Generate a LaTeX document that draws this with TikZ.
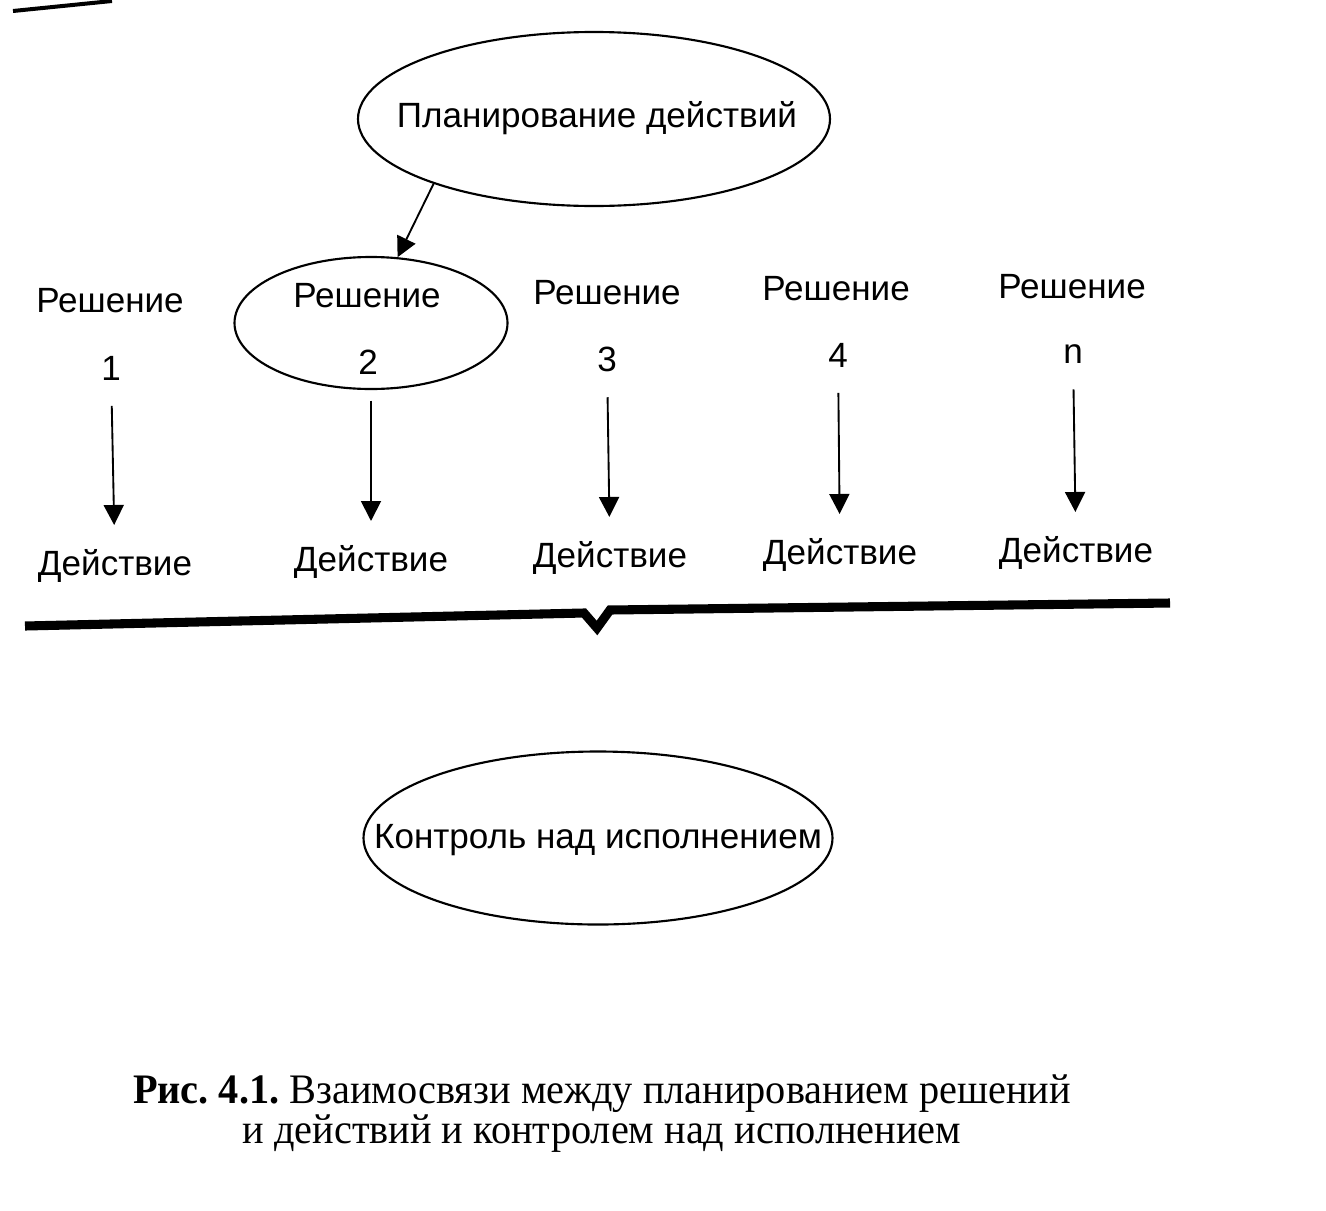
\documentclass[tikz,border=0pt]{standalone}
\usepackage{fontspec}
\setmainfont{Liberation Sans}
\newfontfamily\capfont[FakeStretch=0.96]{Liberation Serif}
\usetikzlibrary{shapes.geometric,arrows.meta}

\tikzset{every picture/.style={line width=0.75pt}}
\tikzset{
	lbl/.style={font=\fontsize{26.3}{31}\selectfont, inner sep=0pt},
	oval/.style={draw, ellipse, line width=1.6pt, inner sep=0pt},
	pointer/.style={line width=1.4pt, -{Triangle[length=15pt,width=15pt]}},
	decarrow/.style={pointer, shorten <=19pt, shorten >=18pt},
	caption/.style={font=\capfont\fontsize{31.5}{30}\selectfont, align=center, inner sep=0pt}}

\begin{document}
\begin{tikzpicture}[x=0.75pt,y=0.75pt,yscale=-1,xscale=1]
	\useasboundingbox (0,0) rectangle (1326,1210);

	%Straight Lines [scan edge]
	\draw [line width=3pt] (13,11) -- (112,1) ;

	%Shape: Ellipse [plan]
	\node [oval, minimum width=354pt, minimum height=130.5pt] (plan) at (594,119) {};
	% Text Node
	\node [lbl] (plantxt) at (597,118) {Планирование действий};
	%Shape: Ellipse [oval2]
	\node [oval, minimum width=204.75pt, minimum height=99pt] (oval2) at (371,323) {};

	% Text Node
	\node [lbl] (r1) at (110,301) {Решение};
	% Text Node
	\node [lbl] (r2) at (367,296) {Решение};
	% Text Node
	\node [lbl] (r3) at (607,293) {Решение};
	% Text Node
	\node [lbl] (r4) at (836,289) {Решение};
	% Text Node
	\node [lbl] (r5) at (1072,287) {Решение};

	% Text Node
	\node [lbl] (k1) at (111,368) {1};
	% Text Node
	\node [lbl] (k2) at (368,362) {2};
	% Text Node
	\node [lbl] (k3) at (607,359) {3};
	% Text Node
	\node [lbl] (k4) at (838,355) {4};
	% Text Node
	\node [lbl] (k5) at (1073,354) {n};

	% Text Node
	\node [lbl] (d1) at (115,566) {Действие};
	% Text Node
	\node [lbl] (d2) at (371,562) {Действие};
	% Text Node
	\node [lbl] (d3) at (610,558) {Действие};
	% Text Node
	\node [lbl] (d4) at (840,555) {Действие};
	% Text Node
	\node [lbl] (d5) at (1076,553) {Действие};

	%Straight Lines [plan to oval2]
	\draw [pointer] (plan.202) -- (oval2.68) ;
	%Straight Lines [decision to action]
	\draw [decarrow] (k1) -- (d1) ;
	\draw [decarrow, shorten <=8pt] (oval2.south) -- (d2) ;
	\draw [decarrow] (k3) -- (d3) ;
	\draw [decarrow] (k4) -- (d4) ;
	\draw [decarrow] (k5) -- (d5) ;

	%Straight Lines [thick bar]
	\draw [line width=6.8pt] (25,626) -- (584,613) -- (597,628) -- (610,610) -- (1170,603) ;

	%Shape: Ellipse [ctrl]
	\node [oval, minimum width=351.75pt, minimum height=129.75pt] (ctrl) at (598,838) {};
	% Text Node
	\node [lbl] (ctrltxt) at (598,840) {Контроль над исполнением};

	% Text Node
	\node [caption] (cap) at (602,1114) {\frenchspacing\textbf{Рис. 4.1.} Взаимосвязи между планированием решений\\и действий и контролем над исполнением};

\end{tikzpicture}
\end{document}
